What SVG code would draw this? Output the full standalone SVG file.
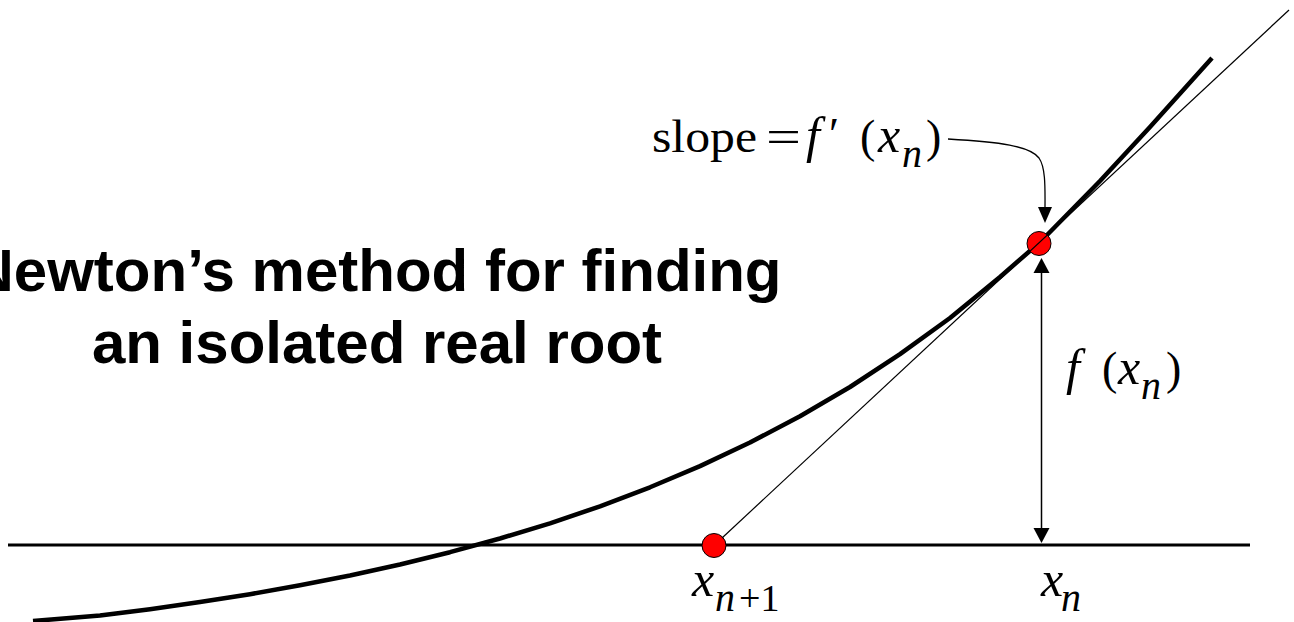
<svg xmlns="http://www.w3.org/2000/svg" width="1294" height="622" viewBox="0 0 1294 622">
<style>
.title{font-family:"Liberation Sans",Arial,sans-serif;font-weight:bold;font-size:60px;fill:#000;text-anchor:middle}
.m{font-family:"Liberation Serif","Times New Roman",serif;font-size:46px;fill:#000}
.i{font-style:italic;font-size:50px}
.sub{font-family:"Liberation Serif","Times New Roman",serif;font-style:italic;font-size:40px;fill:#000}
.subu{font-family:"Liberation Serif","Times New Roman",serif;font-size:38px;fill:#000}
.pt{fill:#ff0000;stroke:#000;stroke-width:1}
</style>
<rect width="1294" height="622" fill="#fff"/>
<g id="title">
<text class="title" x="376" y="291">Newton’s method for finding</text>
<text class="title" x="377" y="363">an isolated real root</text>
</g>
<g id="axis">
<line x1="8" y1="545" x2="1250" y2="545" stroke="#000" stroke-width="3"/>
</g>
<g id="curve">
<polyline fill="none" stroke="#000" stroke-width="4.5" stroke-linejoin="round" points="33,621 100,615.6 150,609.3 200,602.1 250,594.2 300,585.3 350,575.5 400,564.5 450,552.2 500,538.5 550,523.3 600,506.3 650,487.3 700,466.1 750,442.5 800,416.2 850,387 900,354.1 950,318 1000,277 1039,243 1050,232 1100,181 1150,127 1212,58"/>
</g>
<g id="point-xn1">
<circle class="pt" cx="714" cy="545.5" r="12"/>
</g>
<g id="point-xn">
<circle class="pt" cx="1039" cy="243.5" r="12"/>
</g>
<g id="connectors">
<line x1="722" y1="538" x2="1289" y2="10" stroke="#000" stroke-width="1.2"/>
<path d="M948,139 C1000,142 1030,146 1039,158 C1046,168 1045,190 1045,210" fill="none" stroke="#000" stroke-width="1.3"/>
<polygon points="1038,207 1052,207 1045,223" fill="#000"/>
<line x1="1041.5" y1="270" x2="1041.5" y2="530" stroke="#000" stroke-width="1.5"/>
<polygon points="1033.5,273 1049.5,273 1041.5,258" fill="#000"/>
<polygon points="1033.5,528 1049.5,528 1041.5,543" fill="#000"/>
</g>
<g id="label-slope">
<text class="m" x="652" y="152" textLength="105" lengthAdjust="spacingAndGlyphs">slope</text>
<text class="m" x="766" y="152" textLength="35" lengthAdjust="spacingAndGlyphs">=</text>
<text class="m i" x="806" y="152">f</text>
<text class="m" x="829" y="150">′</text>
<text class="m" x="860" y="152">(</text>
<text class="m i" x="878" y="152">x</text>
<text class="sub" x="902" y="167">n</text>
<text class="m" x="926" y="152">)</text>
</g>
<g id="label-fxn">
<text class="m i" x="1066" y="384">f</text>
<text class="m" x="1102" y="384">(</text>
<text class="m i" x="1118" y="384">x</text>
<text class="sub" x="1141" y="399">n</text>
<text class="m" x="1166" y="384">)</text>
</g>
<g id="label-xn1">
<text class="m i" x="692" y="596">x</text>
<text class="sub" x="715" y="611">n</text>
<text class="subu" x="739" y="611">+1</text>
</g>
<g id="label-xn">
<text class="m i" x="1041" y="596">x</text>
<text class="sub" x="1061" y="611">n</text>
</g>
</svg>
